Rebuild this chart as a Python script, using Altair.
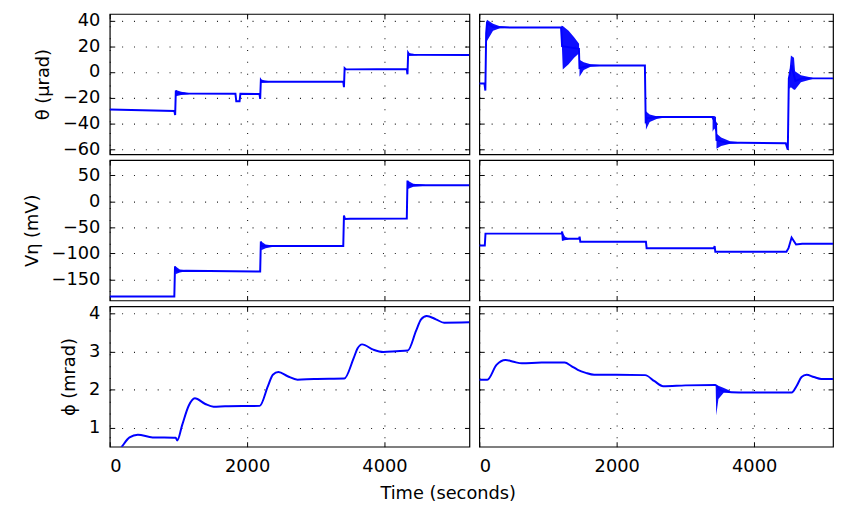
import altair as alt
import pandas as pd

# ---------------- data ----------------
# Row 1: theta (urad)
TL_T = [0, 940, 952, 962, 975, 1000, 1100, 1830, 1842, 1890, 1902, 2180, 2190, 2200, 2212, 2260, 3400, 3410, 3420, 3440, 4325, 4335, 4345, 4360, 4420, 5237]
TL_V = [-29.2, -30.3, -33.5, -14.5, -17.0, -16.5, -16.8, -17.0, -22.8, -22.8, -17.0, -17.2, -21.0, -6.5, -7.5, -7.6, -7.6, -11.8, 3.0, 2.0, 2.2, -1.8, 14.8, 13.5, 13.3, 13.2]
TL_ENV_SEG = [1, 1, 1, 2, 2, 2, 3, 3, 3]
TL_ENV_T = [962, 1040, 1150, 2205, 2260, 2330, 4345, 4400, 4480]
TL_ENV_LO = [-19, -18, -17.3, -8.5, -8.2, -7.9, 12.5, 12.8, 13.0]
TL_ENV_HI = [-14, -15.5, -16.3, -5.8, -6.6, -7.2, 15.0, 14.2, 13.7]

TR_T = [0, 75, 88, 100, 112, 200, 450, 1190, 1205, 1450, 1458, 1600, 1750, 2410, 2422, 2440, 2600, 3390, 3445, 3452, 3600, 3800, 4460, 4490, 4505, 4545, 4600, 4700, 4850, 5148]
TR_V = [-9, -9, -14.5, 30, 38, 35, 34.5, 34.5, 20, 18, 3, 5, 5, 5, -40, -36, -35, -35, -40, -53, -55, -55, -55.5, -60.5, -5, 5, -7, -5, -5, -5]
TR_ENV_SEG = [1, 1, 1, 1, 1, 2, 2, 2, 2, 2, 3, 3, 3, 3, 4, 4, 4, 4, 5, 5, 5, 6, 6, 6, 6, 7, 7, 7, 7, 7, 7]
TR_ENV_T = [100, 112, 200, 300, 450, 1195, 1215, 1300, 1380, 1452, 1458, 1520, 1620, 1750, 2425, 2480, 2580, 2700, 3395, 3420, 3445, 3452, 3520, 3650, 3800, 4510, 4535, 4580, 4595, 4680, 4850]
TR_ENV_LO = [20, 24, 32, 34, 34.3, 30, 1.8, 6, 11, 14.6, -3.7, 1.5, 4, 4.7, -45, -39, -36.5, -35.5, -46.5, -44, -46.5, -59.7, -57.5, -55.8, -55.3, -13, -12, -13.9, -13.9, -8, -5.4]
TR_ENV_HI = [38, 40.5, 37.5, 35.5, 34.9, 36, 35.7, 32, 27, 22, 9.5, 7.5, 6, 5.3, -30.5, -33, -34.5, -34.8, -34.3, -34.3, -35, -47.8, -51, -53.8, -54.6, -2, 12.8, 11, 0.6, -2.5, -4.6]

# Row 2: V_eta (mV)
ML_T = [0, 940, 950, 960, 1000, 1110, 2190, 2200, 2210, 2260, 2400, 3400, 3410, 3425, 3500, 4325, 4335, 4350, 4420, 4600, 5237]
ML_V = [-183, -183, -125, -133, -134, -133.5, -135, -77, -86, -86, -86, -86, -27, -34, -33.5, -33, 40, 31, 31.5, 31, 31]
ML_ENV_SEG = [1, 1, 1, 2, 2, 2, 3, 3, 3]
ML_ENV_T = [955, 1020, 1110, 2205, 2270, 2400, 4340, 4420, 4600]
ML_ENV_LO = [-140, -137, -134.5, -94, -90, -87, 24, 28, 30.3]
ML_ENV_HI = [-125, -131, -132.5, -77, -83, -85.5, 40, 34, 31.7]

MR_T = [0, 80, 90, 1200, 1206, 1215, 1300, 1450, 1460, 1470, 2425, 2435, 3415, 3425, 3435, 4470, 4500, 4545, 4610, 4700, 5148]
MR_V = [-85, -85, -62, -62, -58, -73, -72, -72, -68, -77.5, -77.5, -90, -90, -86, -97, -97, -90, -69.5, -83, -81.5, -81.5]
MR_ENV_SEG = [1, 1, 1]
MR_ENV_T = [1206, 1250, 1300]
MR_ENV_LO = [-76, -74, -73]
MR_ENV_HI = [-58, -68, -71]

# Row 3: phi (mrad)
BL_T = [120, 182, 288, 408, 624, 960, 983, 1055, 1151, 1238, 1391, 1511, 1679, 2183, 2303, 2375, 2456, 2590, 2734, 2974, 3415, 3550, 3607, 3674, 3838, 3982, 4174, 4341, 4461, 4533, 4615, 4749, 4869, 5237]
BL_V = [0.35, 0.51, 0.74, 0.81, 0.74, 0.73, 0.66, 1.07, 1.58, 1.77, 1.62, 1.55, 1.56, 1.57, 2.09, 2.39, 2.46, 2.35, 2.26, 2.28, 2.29, 2.82, 3.08, 3.19, 3.05, 2.99, 3.01, 3.03, 3.55, 3.85, 3.94, 3.85, 3.76, 3.77]
BL_ENV_SEG = []
BL_ENV_T = []
BL_ENV_LO = []
BL_ENV_HI = []

BR_T = [0, 117, 250, 381, 500, 620, 907, 1242, 1340, 1433, 1550, 1672, 2000, 2413, 2550, 2676, 3000, 3436, 3500, 3560, 3780, 4200, 4546, 4620, 4690, 4762, 4870, 4977, 5148]
BR_V = [2.26, 2.26, 2.65, 2.78, 2.73, 2.69, 2.71, 2.71, 2.62, 2.52, 2.44, 2.39, 2.39, 2.38, 2.22, 2.09, 2.11, 2.12, 2.0, 1.95, 1.92, 1.92, 1.92, 2.1, 2.33, 2.39, 2.33, 2.28, 2.28]
BR_ENV_SEG = [1, 1, 1, 1, 1]
BR_ENV_T = [3440, 3448, 3480, 3560, 3650]
BR_ENV_LO = [2.1, 1.32, 1.75, 1.92, 1.93]
BR_ENV_HI = [2.12, 2.12, 2.1, 2.04, 1.97]

X_TICKS = [0, 2000, 4000]
ROW_YTICKS = [[-60, -40, -20, 0, 20, 40], [-150, -100, -50, 0, 50], [1, 2, 3, 4]]
ROW_YDOM = [[-64, 45.1], [-190.7, 79.4], [0.495, 4.19]]
ROW_TITLES = ["θ (μrad)", "Vη (mV)", "ϕ (mrad)"]
LEFT_XDOM = [0, 5237]
RIGHT_XDOM = [0, 5148]

# ---------------- styling ----------------
FONT = "DejaVu Sans"
BLUE = "#0000ff"
LEFT_W, RIGHT_W, H = 364, 358, 142
GRID = dict(grid=True, gridDash=[1, 11], gridColor="black", gridWidth=1.1, gridOpacity=0.9)


def panel(lt, lv, es, et, elo, ehi, xdom, ydom, yticks, width,
          ytitle=None, xlabels=False, xtitle=None, interp="linear", left=True):
    line_df = pd.DataFrame({"t": lt, "v": lv})
    env_df = pd.DataFrame({"seg": es, "t": et, "lo": elo, "hi": ehi})
    xs = alt.Scale(domain=xdom, nice=False, zero=False)
    ys = alt.Scale(domain=ydom, nice=False, zero=False)

    y_axis_kw = dict(orient="left", values=yticks, offset=-5, tickSize=5, domain=False,
                     labels=left, labelPadding=10, tickColor="black", title=ytitle,
                     titlePadding=10, format="d", **GRID)
    x_axis_kw = dict(orient="bottom", values=X_TICKS, offset=-5, tickSize=5, domain=False,
                     labels=xlabels, labelPadding=11, tickColor="black", title=xtitle,
                     format="d", **GRID)
    if xtitle:
        x_axis_kw.update(titleX=342, titleY=57, titleBaseline="alphabetic", titleAlign="center")

    line = alt.Chart(line_df).mark_line(color=BLUE, strokeWidth=2, clip=True, interpolate=interp).encode(
        x=alt.X("t:Q", scale=xs, axis=alt.Axis(**x_axis_kw)),
        y=alt.Y("v:Q", scale=ys, axis=alt.Axis(**y_axis_kw)),
    )
    env = alt.Chart(env_df).mark_area(color=BLUE, opacity=0.95, clip=True).encode(
        x=alt.X("t:Q", scale=xs, axis=alt.Axis(orient="top", values=X_TICKS, offset=-5, tickSize=5,
                                                domain=False, labels=False, grid=False, title=None,
                                                tickColor="black")),
        y=alt.Y("lo:Q", scale=ys, axis=alt.Axis(orient="right", values=yticks, offset=-5, tickSize=5,
                                                 domain=False, labels=False, grid=False, title=None,
                                                 tickColor="black")),
        y2="hi:Q",
        detail="seg:N",
    )
    return alt.layer(line, env).resolve_axis(x="independent", y="independent").properties(
        width=width, height=H)


panels = [
    panel(TL_T, TL_V, TL_ENV_SEG, TL_ENV_T, TL_ENV_LO, TL_ENV_HI, LEFT_XDOM, ROW_YDOM[0], ROW_YTICKS[0], LEFT_W,
          ytitle=ROW_TITLES[0]),
    panel(TR_T, TR_V, TR_ENV_SEG, TR_ENV_T, TR_ENV_LO, TR_ENV_HI, RIGHT_XDOM, ROW_YDOM[0], ROW_YTICKS[0], RIGHT_W,
          left=False),
    panel(ML_T, ML_V, ML_ENV_SEG, ML_ENV_T, ML_ENV_LO, ML_ENV_HI, LEFT_XDOM, ROW_YDOM[1], ROW_YTICKS[1], LEFT_W,
          ytitle=ROW_TITLES[1]),
    panel(MR_T, MR_V, MR_ENV_SEG, MR_ENV_T, MR_ENV_LO, MR_ENV_HI, RIGHT_XDOM, ROW_YDOM[1], ROW_YTICKS[1], RIGHT_W,
          left=False),
    panel(BL_T, BL_V, BL_ENV_SEG, BL_ENV_T, BL_ENV_LO, BL_ENV_HI, LEFT_XDOM, ROW_YDOM[2], ROW_YTICKS[2], LEFT_W,
          ytitle=ROW_TITLES[2], xlabels=True, xtitle="Time (seconds)", interp="monotone"),
    panel(BR_T, BR_V, BR_ENV_SEG, BR_ENV_T, BR_ENV_LO, BR_ENV_HI, RIGHT_XDOM, ROW_YDOM[2], ROW_YTICKS[2], RIGHT_W,
          left=False, xlabels=True, interp="monotone"),
]

chart = alt.concat(*panels, columns=2, spacing={"row": 6, "column": 10}).properties(
    bounds="flush",
    align="each",
    padding={"left": 14, "top": 0, "right": 0, "bottom": 0},
).configure_axis(
    labelFont=FONT, labelFontSize=18, labelColor="black",
    titleFont=FONT, titleFontSize=18, titleFontWeight="normal", titleColor="black",
).configure_view(stroke="black", strokeWidth=1.2)

chart.save("out.html", embed_options={"renderer": "svg", "actions": False})
